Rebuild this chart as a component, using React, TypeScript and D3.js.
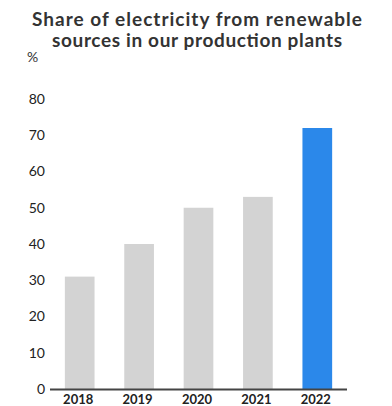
import React from "react";
import * as d3 from "d3";

const years = ["2018", "2019", "2020", "2021", "2022"];
const shares = [31, 40, 50, 53, 72];
const barColors = ["#d3d3d3", "#d3d3d3", "#d3d3d3", "#d3d3d3", "#2b88ea"];
const yTicks = [0, 10, 20, 30, 40, 50, 60, 70, 80];
const titleLines = ["Share of electricity from renewable", "sources in our production plants"];
const titleWidths = [330, 290];
const unitLabel = "%";

const W = 392;
const H = 406;
const FONT = "Lato, 'DejaVu Sans', sans-serif";

export default function App() {
  const x = d3.scaleBand<string>().domain(years).range([50, 347]).paddingInner(0.5).paddingOuter(0.25);
  const y = d3.scaleLinear().domain([0, 80]).range([389, 99]);

  return (
    <svg width={W} height={H} style={{ position: "absolute", left: 0, top: 0, background: "#fff" }}>
      <g fontFamily={FONT}>
        {titleLines.map((t, i) => (
          <text key={i} x={197} y={26 + i * 21} textAnchor="middle" fontSize={19} fontWeight={700} fill="#333"
            textLength={titleWidths[i]} lengthAdjust="spacing">
            {t}
          </text>
        ))}
        <text x={27} y={62} fontSize={14} fill="#333">{unitLabel}</text>
        {yTicks.map((t) => (
          <text key={t} x={45} y={y(t)} dy="0.35em" textAnchor="end" fontSize={14} fill="#222">
            {t}
          </text>
        ))}
        {years.map((yr, i) => (
          <rect key={yr} x={x(yr)} y={y(shares[i])} width={x.bandwidth()} height={y(0) - y(shares[i])} fill={barColors[i]} />
        ))}
        <line x1={50} x2={347} y1={y(0) + 0.5} y2={y(0) + 0.5} stroke="#444" strokeWidth={2} />
        {years.map((yr) => (
          <text key={yr} x={(x(yr) as number) + x.bandwidth() / 2 - 1.5} y={403.5} textAnchor="middle" fontSize={13} fontWeight={700} fill="#222">
            {yr}
          </text>
        ))}
      </g>
    </svg>
  );
}
